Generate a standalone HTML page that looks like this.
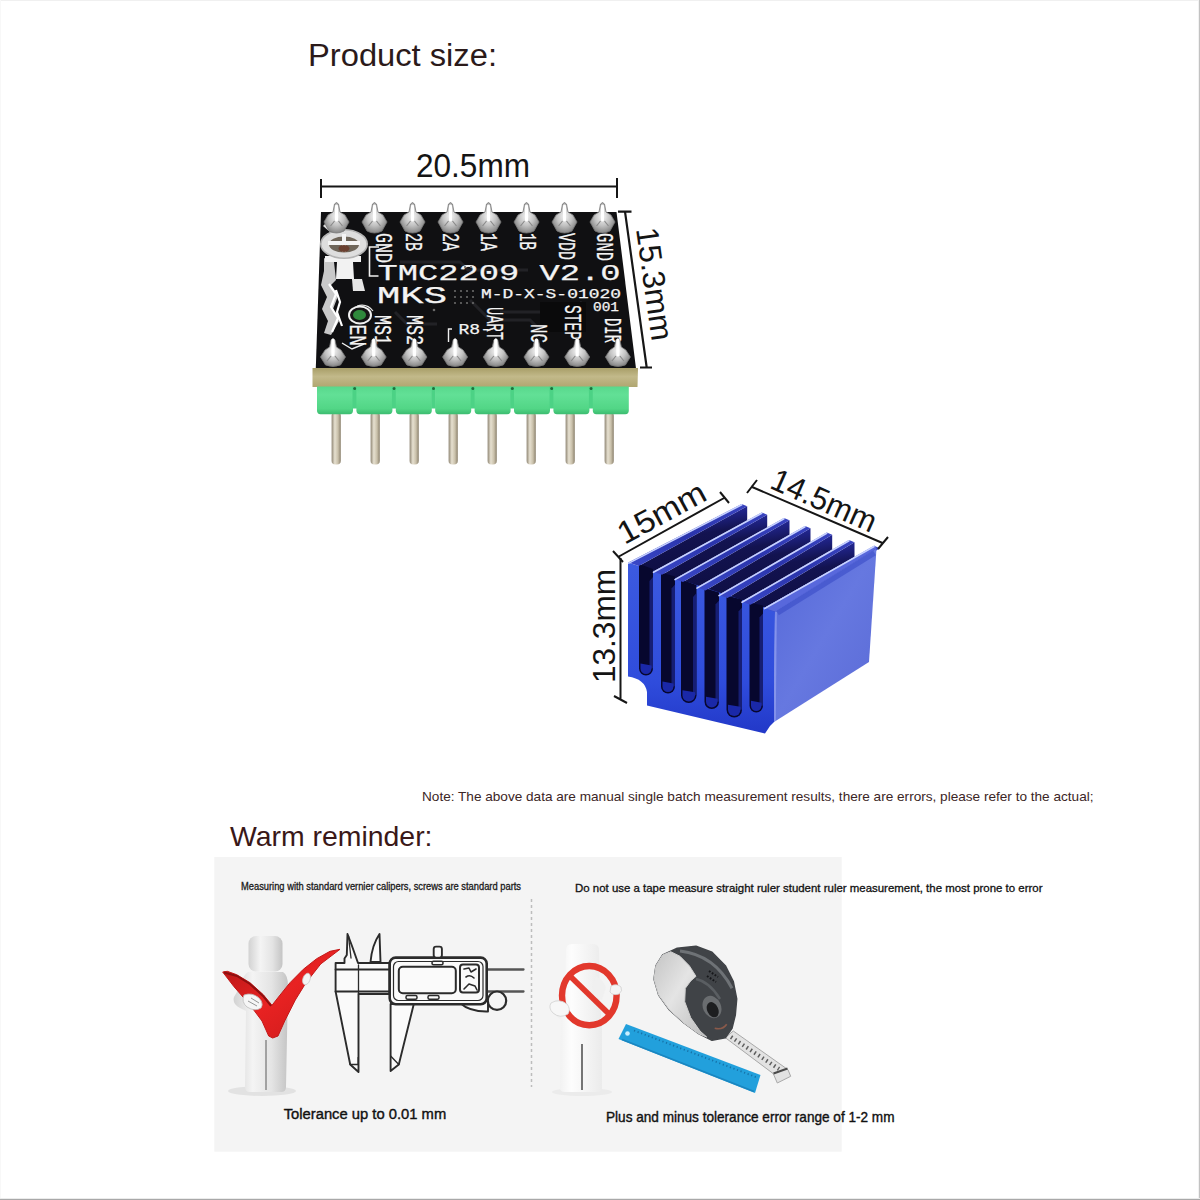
<!DOCTYPE html>
<html lang="en">
<head>
<meta charset="utf-8">
<title>Product size</title>
<style>
html,body{margin:0;padding:0;background:#fff;}
body{width:1200px;height:1200px;overflow:hidden;}
svg{display:block;}
svg text{font-family:"Liberation Sans", sans-serif;}
svg .silk text{font-family:"Liberation Mono", "DejaVu Sans Mono", monospace;}
</style>
</head>
<body>
<svg width="1200" height="1200" viewBox="0 0 1200 1200">
<defs>
<linearGradient id="pinG" x1="0" x2="1" y1="0" y2="0">
  <stop offset="0" stop-color="#8f8674"/><stop offset=".35" stop-color="#e6e0d0"/>
  <stop offset=".7" stop-color="#c9c0aa"/><stop offset="1" stop-color="#8a806c"/>
</linearGradient>
<linearGradient id="greenG" x1="0" x2="0" y1="0" y2="1">
  <stop offset="0" stop-color="#58d88c"/><stop offset=".3" stop-color="#62e096"/>
  <stop offset=".8" stop-color="#52d686"/><stop offset="1" stop-color="#3cbc70"/>
</linearGradient>
<linearGradient id="tanG" x1="0" x2="0" y1="0" y2="1">
  <stop offset="0" stop-color="#a89e68"/><stop offset=".45" stop-color="#c2b98a"/>
  <stop offset="1" stop-color="#b0a670"/>
</linearGradient>
<radialGradient id="padG" cx=".5" cy=".45" r=".6">
  <stop offset="0" stop-color="#f4f4f4"/><stop offset=".5" stop-color="#c4c4c4"/>
  <stop offset="1" stop-color="#7a7a7a"/>
</radialGradient>
<linearGradient id="faceG" x1="0" x2="1" y1="0" y2="1">
  <stop offset="0" stop-color="#5568d8"/><stop offset=".5" stop-color="#6678e0"/>
  <stop offset="1" stop-color="#5a6ad6"/>
</linearGradient>
<linearGradient id="crossG" x1="0" x2="0" y1="0" y2="1">
  <stop offset="0" stop-color="#3c5ae0"/><stop offset=".7" stop-color="#2f4cdc"/>
  <stop offset="1" stop-color="#2238c8"/>
</linearGradient>
<linearGradient id="bodyG" x1="0" x2="1" y1="0" y2="0">
  <stop offset="0" stop-color="#d2d2d2"/><stop offset=".35" stop-color="#f4f4f4"/>
  <stop offset=".7" stop-color="#e4e4e4"/><stop offset="1" stop-color="#c4c4c4"/>
</linearGradient>
<linearGradient id="body2G" x1="0" x2="1" y1="0" y2="0">
  <stop offset="0" stop-color="#e9e9e9"/><stop offset=".4" stop-color="#fdfdfd"/>
  <stop offset="1" stop-color="#ebebeb"/>
</linearGradient>
<linearGradient id="checkG" x1="0" x2="1" y1="0" y2="1">
  <stop offset="0" stop-color="#b01515"/><stop offset=".5" stop-color="#e82222"/>
  <stop offset="1" stop-color="#c81a1a"/>
</linearGradient>
<linearGradient id="tapeG" x1="0" x2="1" y1="0" y2="1">
  <stop offset="0" stop-color="#c4c4c4"/><stop offset=".45" stop-color="#e4e4e4"/>
  <stop offset="1" stop-color="#bcbcbc"/>
</linearGradient>
</defs>
<rect x="0" y="0" width="1200" height="1200" fill="#ffffff"/>
<rect x="0" y="0" width="1200" height="1" fill="#f0f0f0"/>
<rect x="0" y="0" width="1" height="1200" fill="#f8f8f8"/>
<rect x="1198" y="0" width="1" height="1200" fill="#f2f2f2"/>
<rect x="1199" y="0" width="1" height="1200" fill="#c2c2c2"/>
<rect x="0" y="1198" width="1200" height="1" fill="#ebebeb"/>
<rect x="0" y="1199" width="1200" height="1" fill="#a8a8a8"/>
<text x="308" y="65.5" font-size="31" fill="#2b1a1a" textLength="189" lengthAdjust="spacingAndGlyphs">Product size:</text>
<text x="416" y="177.3" font-size="32.5" fill="#141414" textLength="114" lengthAdjust="spacingAndGlyphs">20.5mm</text>
<g stroke="#161616" stroke-width="2" fill="none"><path d="M321 186.5H617M321 179V198M617 178V198"/></g>
<g id="pcb">
<polygon points="321.0,212.0 616.5,212.0 636.0,368.5 315.8,368.5" fill="#101012"/>
<path d="M400 262 h60 l8 8 h60 M470 300 l20 20 h40 l10 10 M500 312 h70 l12 -10 M395 312 l12 12 h30" stroke="#222226" stroke-width="3" fill="none"/>
<rect x="540" y="302" width="46" height="30" fill="#0a0a0b"/>
<polygon points="312.5,368.0 638.0,368.0 637.5,387.0 312.5,387.0" fill="url(#tanG)"/>
<rect x="331.6" y="412" width="9.2" height="52.5" rx="3.8" fill="url(#pinG)"/>
<rect x="370.6" y="412" width="9.2" height="52.5" rx="3.8" fill="url(#pinG)"/>
<rect x="409.6" y="412" width="9.2" height="52.5" rx="3.8" fill="url(#pinG)"/>
<rect x="448.6" y="412" width="9.2" height="52.5" rx="3.8" fill="url(#pinG)"/>
<rect x="487.6" y="412" width="9.2" height="52.5" rx="3.8" fill="url(#pinG)"/>
<rect x="526.6" y="412" width="9.2" height="52.5" rx="3.8" fill="url(#pinG)"/>
<rect x="565.6" y="412" width="9.2" height="52.5" rx="3.8" fill="url(#pinG)"/>
<rect x="604.6" y="412" width="9.2" height="52.5" rx="3.8" fill="url(#pinG)"/>
<path d="M317.0 386.5 h36 v24 q0 3.7 -3.5 3.7 h-29 q-3.5 0 -3.5 -3.7z" fill="url(#greenG)"/>
<rect x="352.5" y="386.5" width="4.5" height="22" fill="#4cd285"/>
<circle cx="354.7" cy="388.5" r="1.5" fill="#1f6e3c"/>
<path d="M356.4 386.5 h36 v24 q0 3.7 -3.5 3.7 h-29 q-3.5 0 -3.5 -3.7z" fill="url(#greenG)"/>
<rect x="391.9" y="386.5" width="4.5" height="22" fill="#4cd285"/>
<circle cx="394.1" cy="388.5" r="1.5" fill="#1f6e3c"/>
<path d="M395.8 386.5 h36 v24 q0 3.7 -3.5 3.7 h-29 q-3.5 0 -3.5 -3.7z" fill="url(#greenG)"/>
<rect x="431.3" y="386.5" width="4.5" height="22" fill="#4cd285"/>
<circle cx="433.5" cy="388.5" r="1.5" fill="#1f6e3c"/>
<path d="M435.2 386.5 h36 v24 q0 3.7 -3.5 3.7 h-29 q-3.5 0 -3.5 -3.7z" fill="url(#greenG)"/>
<rect x="470.7" y="386.5" width="4.5" height="22" fill="#4cd285"/>
<circle cx="472.9" cy="388.5" r="1.5" fill="#1f6e3c"/>
<path d="M474.6 386.5 h36 v24 q0 3.7 -3.5 3.7 h-29 q-3.5 0 -3.5 -3.7z" fill="url(#greenG)"/>
<rect x="510.1" y="386.5" width="4.5" height="22" fill="#4cd285"/>
<circle cx="512.3" cy="388.5" r="1.5" fill="#1f6e3c"/>
<path d="M514.0 386.5 h36 v24 q0 3.7 -3.5 3.7 h-29 q-3.5 0 -3.5 -3.7z" fill="url(#greenG)"/>
<rect x="549.5" y="386.5" width="4.5" height="22" fill="#4cd285"/>
<circle cx="551.7" cy="388.5" r="1.5" fill="#1f6e3c"/>
<path d="M553.4 386.5 h36 v24 q0 3.7 -3.5 3.7 h-29 q-3.5 0 -3.5 -3.7z" fill="url(#greenG)"/>
<rect x="588.9" y="386.5" width="4.5" height="22" fill="#4cd285"/>
<circle cx="591.1" cy="388.5" r="1.5" fill="#1f6e3c"/>
<path d="M592.8 386.5 h36 v24 q0 3.7 -3.5 3.7 h-29 q-3.5 0 -3.5 -3.7z" fill="url(#greenG)"/>
</g>
<g class="silk" fill="#f4f4f4" stroke="#f4f4f4" stroke-width="0.25">
<text x="377.5" y="279.6" font-size="22.5" textLength="243" lengthAdjust="spacingAndGlyphs">TMC2209 V2.0</text>
<text x="377" y="302.6" font-size="23" textLength="70" lengthAdjust="spacingAndGlyphs">MKS</text>
<text x="481" y="298" font-size="12.5" textLength="140" lengthAdjust="spacingAndGlyphs">M-D-X-S-01020</text>
<text x="593" y="311" font-size="12" textLength="26" lengthAdjust="spacingAndGlyphs">001</text>
<text x="458.5" y="334.2" font-size="15" textLength="32.5" lengthAdjust="spacingAndGlyphs">R8-</text>
<path d="M452 329h-3.5v13" stroke="#efefef" stroke-width="1.4" fill="none"/>
<g fill="#6a6a6a" stroke="none"><circle cx="455" cy="291" r="1.1"/><circle cx="461" cy="291" r="1.1"/><circle cx="467" cy="291" r="1.1"/><circle cx="473" cy="291" r="1.1"/><circle cx="455" cy="297" r="1.1"/><circle cx="461" cy="297" r="1.1"/><circle cx="467" cy="297" r="1.1"/><circle cx="473" cy="297" r="1.1"/><circle cx="455" cy="303" r="1.1"/><circle cx="461" cy="303" r="1.1"/><circle cx="467" cy="303" r="1.1"/><circle cx="473" cy="303" r="1.1"/><circle cx="434" cy="310" r="1.3"/><circle cx="465" cy="267" r="1.1"/><circle cx="471" cy="267" r="1.1"/></g>
<text transform="translate(376.3,233.0) rotate(90)" font-size="24.5" textLength="30.0" lengthAdjust="spacingAndGlyphs">GND</text>
<text transform="translate(406.3,233.0) rotate(90)" font-size="24.5" textLength="18.0" lengthAdjust="spacingAndGlyphs">2B</text>
<text transform="translate(443.3,233.0) rotate(90)" font-size="24.5" textLength="18.0" lengthAdjust="spacingAndGlyphs">2A</text>
<text transform="translate(481.3,233.0) rotate(90)" font-size="24.5" textLength="18.0" lengthAdjust="spacingAndGlyphs">1A</text>
<text transform="translate(519.8,233.0) rotate(90)" font-size="24.5" textLength="17.0" lengthAdjust="spacingAndGlyphs">1B</text>
<text transform="translate(559.3,233.0) rotate(90)" font-size="24.5" textLength="27.0" lengthAdjust="spacingAndGlyphs">VDD</text>
<text transform="translate(597.3,233.0) rotate(90)" font-size="24.5" textLength="28.0" lengthAdjust="spacingAndGlyphs">GND</text>
<text transform="translate(350.3,324.5) rotate(90)" font-size="24.5" textLength="21.5" lengthAdjust="spacingAndGlyphs">EN</text>
<text transform="translate(375.3,315.0) rotate(90)" font-size="24.5" textLength="30.0" lengthAdjust="spacingAndGlyphs">MS1</text>
<text transform="translate(407.3,315.0) rotate(90)" font-size="24.5" textLength="30.0" lengthAdjust="spacingAndGlyphs">MS2</text>
<text transform="translate(486.8,307.0) rotate(90)" font-size="24.5" textLength="33.0" lengthAdjust="spacingAndGlyphs">UART</text>
<text transform="translate(530.8,324.0) rotate(90)" font-size="24.5" textLength="19.0" lengthAdjust="spacingAndGlyphs">NC</text>
<text transform="translate(565.3,305.0) rotate(90)" font-size="24.5" textLength="35.0" lengthAdjust="spacingAndGlyphs">STEP</text>
<text transform="translate(604.8,318.0) rotate(90)" font-size="24.5" textLength="25.0" lengthAdjust="spacingAndGlyphs">DIR</text>
</g>
<g id="pot">
<path d="M324 258 l10 4 2 18 -6 6 8 10 -5 13 6 12 -8 14 -7 -2 4 -12 -6 -12 5 -12 -6 -12 3 -14z" fill="#c9c9c9"/>
<path d="M329 284 l7 10 -5 13 7 11 -6 14 M336 290 l4 12 -3 10 5 14" stroke="#ffffff" stroke-width="2.2" fill="none"/>
<path d="M323 226 l8 -8 6 8 -7 6z" fill="#dcdcdc"/>
<path d="M325 256 h36 v6 h-8 l1 17 h-18 l1 -17 h-12z" fill="#f2f2f2"/>
<path d="M352 279 l10 0 3 12 h-12 z" fill="#e6e6e6"/>
<ellipse cx="344" cy="244" rx="23.2" ry="14.2" fill="#dedede" stroke="#b4b4b4" stroke-width="1.6"/>
<ellipse cx="344" cy="244.5" rx="15" ry="8" fill="#6f665a"/>
<path d="M328 243h32M344 234v18" stroke="#f4f4f4" stroke-width="4"/>
<ellipse cx="344" cy="248.5" rx="5.5" ry="3.4" fill="#6a4030"/>
<path d="M379 247 h-9.5 v29 h9" stroke="#f0f0f0" stroke-width="1.6" fill="none"/>
<ellipse cx="360" cy="315" rx="11" ry="8.5" fill="#161616" stroke="#f2f2f2" stroke-width="2"/>
<ellipse cx="359.5" cy="315" rx="6.5" ry="5" fill="#2f8a3c"/>
<path d="M342 343 l10 6 l12 -5" stroke="#f0f0f0" stroke-width="1.4" fill="none"/>
<path d="M357 306 q10 -3 16 5" stroke="#e8e8e8" stroke-width="1.2" fill="none"/>
</g>
<g id="pads">
<path d="M324.0 222 l4 -7 l5 -3 l1.5 -8 q2 -3 4 0 l1.5 8 l5 3 l4 7 l-5 9 q-7.5 4 -15 0z" fill="url(#padG)" stroke="#777" stroke-width=".8"/>
<path d="M336.5 206 v14" stroke="#ffffff" stroke-width="3" stroke-linecap="round"/>
<path d="M330.5 226 l4 -5 M342.5 226 l-4 -5" stroke="#8a8a8a" stroke-width="1.2"/>
<path d="M362.0 222 l4 -7 l5 -3 l1.5 -8 q2 -3 4 0 l1.5 8 l5 3 l4 7 l-5 9 q-7.5 4 -15 0z" fill="url(#padG)" stroke="#777" stroke-width=".8"/>
<path d="M374.5 206 v14" stroke="#ffffff" stroke-width="3" stroke-linecap="round"/>
<path d="M368.5 226 l4 -5 M380.5 226 l-4 -5" stroke="#8a8a8a" stroke-width="1.2"/>
<path d="M400.0 222 l4 -7 l5 -3 l1.5 -8 q2 -3 4 0 l1.5 8 l5 3 l4 7 l-5 9 q-7.5 4 -15 0z" fill="url(#padG)" stroke="#777" stroke-width=".8"/>
<path d="M412.5 206 v14" stroke="#ffffff" stroke-width="3" stroke-linecap="round"/>
<path d="M406.5 226 l4 -5 M418.5 226 l-4 -5" stroke="#8a8a8a" stroke-width="1.2"/>
<path d="M438.0 222 l4 -7 l5 -3 l1.5 -8 q2 -3 4 0 l1.5 8 l5 3 l4 7 l-5 9 q-7.5 4 -15 0z" fill="url(#padG)" stroke="#777" stroke-width=".8"/>
<path d="M450.5 206 v14" stroke="#ffffff" stroke-width="3" stroke-linecap="round"/>
<path d="M444.5 226 l4 -5 M456.5 226 l-4 -5" stroke="#8a8a8a" stroke-width="1.2"/>
<path d="M476.0 222 l4 -7 l5 -3 l1.5 -8 q2 -3 4 0 l1.5 8 l5 3 l4 7 l-5 9 q-7.5 4 -15 0z" fill="url(#padG)" stroke="#777" stroke-width=".8"/>
<path d="M488.5 206 v14" stroke="#ffffff" stroke-width="3" stroke-linecap="round"/>
<path d="M482.5 226 l4 -5 M494.5 226 l-4 -5" stroke="#8a8a8a" stroke-width="1.2"/>
<path d="M514.0 222 l4 -7 l5 -3 l1.5 -8 q2 -3 4 0 l1.5 8 l5 3 l4 7 l-5 9 q-7.5 4 -15 0z" fill="url(#padG)" stroke="#777" stroke-width=".8"/>
<path d="M526.5 206 v14" stroke="#ffffff" stroke-width="3" stroke-linecap="round"/>
<path d="M520.5 226 l4 -5 M532.5 226 l-4 -5" stroke="#8a8a8a" stroke-width="1.2"/>
<path d="M552.0 222 l4 -7 l5 -3 l1.5 -8 q2 -3 4 0 l1.5 8 l5 3 l4 7 l-5 9 q-7.5 4 -15 0z" fill="url(#padG)" stroke="#777" stroke-width=".8"/>
<path d="M564.5 206 v14" stroke="#ffffff" stroke-width="3" stroke-linecap="round"/>
<path d="M558.5 226 l4 -5 M570.5 226 l-4 -5" stroke="#8a8a8a" stroke-width="1.2"/>
<path d="M590.0 222 l4 -7 l5 -3 l1.5 -8 q2 -3 4 0 l1.5 8 l5 3 l4 7 l-5 9 q-7.5 4 -15 0z" fill="url(#padG)" stroke="#777" stroke-width=".8"/>
<path d="M602.5 206 v14" stroke="#ffffff" stroke-width="3" stroke-linecap="round"/>
<path d="M596.5 226 l4 -5 M608.5 226 l-4 -5" stroke="#8a8a8a" stroke-width="1.2"/>
<path d="M320.5 357 l4.5 -7 l4.5 -3 l1.5 -7 q2 -3 4 0 l1.5 7 l4.5 3 l4.5 7 l-5 8 q-7.5 3 -15 0z" fill="url(#padG)" stroke="#777" stroke-width=".8"/>
<path d="M333.0 340 v15" stroke="#ffffff" stroke-width="3.2" stroke-linecap="round"/>
<path d="M327.0 361 l4 -5 M339.0 361 l-4 -5" stroke="#8a8a8a" stroke-width="1.2"/>
<path d="M361.2 357 l4.5 -7 l4.5 -3 l1.5 -7 q2 -3 4 0 l1.5 7 l4.5 3 l4.5 7 l-5 8 q-7.5 3 -15 0z" fill="url(#padG)" stroke="#777" stroke-width=".8"/>
<path d="M373.7 340 v15" stroke="#ffffff" stroke-width="3.2" stroke-linecap="round"/>
<path d="M367.7 361 l4 -5 M379.7 361 l-4 -5" stroke="#8a8a8a" stroke-width="1.2"/>
<path d="M401.9 357 l4.5 -7 l4.5 -3 l1.5 -7 q2 -3 4 0 l1.5 7 l4.5 3 l4.5 7 l-5 8 q-7.5 3 -15 0z" fill="url(#padG)" stroke="#777" stroke-width=".8"/>
<path d="M414.4 340 v15" stroke="#ffffff" stroke-width="3.2" stroke-linecap="round"/>
<path d="M408.4 361 l4 -5 M420.4 361 l-4 -5" stroke="#8a8a8a" stroke-width="1.2"/>
<path d="M442.6 357 l4.5 -7 l4.5 -3 l1.5 -7 q2 -3 4 0 l1.5 7 l4.5 3 l4.5 7 l-5 8 q-7.5 3 -15 0z" fill="url(#padG)" stroke="#777" stroke-width=".8"/>
<path d="M455.1 340 v15" stroke="#ffffff" stroke-width="3.2" stroke-linecap="round"/>
<path d="M449.1 361 l4 -5 M461.1 361 l-4 -5" stroke="#8a8a8a" stroke-width="1.2"/>
<path d="M483.3 357 l4.5 -7 l4.5 -3 l1.5 -7 q2 -3 4 0 l1.5 7 l4.5 3 l4.5 7 l-5 8 q-7.5 3 -15 0z" fill="url(#padG)" stroke="#777" stroke-width=".8"/>
<path d="M495.8 340 v15" stroke="#ffffff" stroke-width="3.2" stroke-linecap="round"/>
<path d="M489.8 361 l4 -5 M501.8 361 l-4 -5" stroke="#8a8a8a" stroke-width="1.2"/>
<path d="M524.0 357 l4.5 -7 l4.5 -3 l1.5 -7 q2 -3 4 0 l1.5 7 l4.5 3 l4.5 7 l-5 8 q-7.5 3 -15 0z" fill="url(#padG)" stroke="#777" stroke-width=".8"/>
<path d="M536.5 340 v15" stroke="#ffffff" stroke-width="3.2" stroke-linecap="round"/>
<path d="M530.5 361 l4 -5 M542.5 361 l-4 -5" stroke="#8a8a8a" stroke-width="1.2"/>
<path d="M564.7 357 l4.5 -7 l4.5 -3 l1.5 -7 q2 -3 4 0 l1.5 7 l4.5 3 l4.5 7 l-5 8 q-7.5 3 -15 0z" fill="url(#padG)" stroke="#777" stroke-width=".8"/>
<path d="M577.2 340 v15" stroke="#ffffff" stroke-width="3.2" stroke-linecap="round"/>
<path d="M571.2 361 l4 -5 M583.2 361 l-4 -5" stroke="#8a8a8a" stroke-width="1.2"/>
<path d="M605.4 357 l4.5 -7 l4.5 -3 l1.5 -7 q2 -3 4 0 l1.5 7 l4.5 3 l4.5 7 l-5 8 q-7.5 3 -15 0z" fill="url(#padG)" stroke="#777" stroke-width=".8"/>
<path d="M617.9 340 v15" stroke="#ffffff" stroke-width="3.2" stroke-linecap="round"/>
<path d="M611.9 361 l4 -5 M623.9 361 l-4 -5" stroke="#8a8a8a" stroke-width="1.2"/>
</g>
<g stroke="#161616" stroke-width="2.2" fill="none"><path d="M625 211.7L646.7 367.5M618 211.7h13.5M640 367.5h12"/></g>
<text transform="translate(636,229) rotate(82)" font-size="31.5" fill="#141414" textLength="114" lengthAdjust="spacingAndGlyphs">15.3mm</text>
<g id="heatsink">
<defs>
<linearGradient id="topG" gradientUnits="objectBoundingBox" x1="0" y1="1" x2="1" y2="0">
 <stop offset="0" stop-color="#3a48c8"/><stop offset=".5" stop-color="#2a34ac"/><stop offset="1" stop-color="#3944c0"/>
</linearGradient>
<linearGradient id="gapG" gradientUnits="objectBoundingBox" x1=".35" y1="0" x2=".65" y2="1">
 <stop offset="0" stop-color="#2a30a4"/><stop offset=".22" stop-color="#20248a"/><stop offset=".45" stop-color="#131350"/>
 <stop offset="1" stop-color="#0d0d40"/>
</linearGradient></defs>
<polygon points="638.8,566.1 747.2,506.2 747.2,520.4 653.0,571.7" fill="url(#gapG)"/>
<polygon points="662.0,574.8 767.2,514.7 767.2,527.4 674.5,579.0" fill="url(#gapG)"/>
<polygon points="683.0,581.9 789.5,520.2 789.5,534.8 696.5,587.5" fill="url(#gapG)"/>
<polygon points="705.5,590.6 810.5,528.2 810.5,541.9 718.5,595.0" fill="url(#gapG)"/>
<polygon points="727.5,598.1 832.2,534.7 832.2,549.6 741.5,601.7" fill="url(#gapG)"/>
<polygon points="750.5,604.8 854.5,542.2 854.5,557.2 764.0,608.0" fill="url(#gapG)"/>
<path d="M628 562.5 L639 566 L775 611 L774 722 L770 726 L765 733.5 L647 705.5 L647 692 Q645 679 628 676.5 Z" fill="url(#crossG)"/>
<path d="M639 564 L653 569 L653 668.5 A7.0 7.0 0 0 1 639 668.5Z" fill="#07072e"/>
<path d="M649.5 581 L653 577 L653 668.5 L649.5 668.5Z" fill="#1a2486" opacity=".8"/>
<path d="M640.5 663.5 L651.5 665.5 L651.5 668.5 A5.5 5.5 0 0 1 640.5 668.5Z" fill="#1a28a8"/>
<path d="M661 572.5 L675 576.5 L675 686.5 A7.0 7.0 0 0 1 661 686.5Z" fill="#07072e"/>
<path d="M671.5 588.5 L675 584.5 L675 686.5 L671.5 686.5Z" fill="#1a2486" opacity=".8"/>
<path d="M662.5 681.5 L673.5 683.5 L673.5 686.5 A5.5 5.5 0 0 1 662.5 686.5Z" fill="#1a28a8"/>
<path d="M681 579.5 L696.5 585 L696.5 695.25 A7.75 7.75 0 0 1 681 695.25Z" fill="#07072e"/>
<path d="M693.0 597 L696.5 593 L696.5 695.25 L693.0 695.25Z" fill="#1a2486" opacity=".8"/>
<path d="M682.5 690.25 L695.0 692.25 L695.0 695.25 A6.25 6.25 0 0 1 682.5 695.25Z" fill="#1a28a8"/>
<path d="M704.5 588 L719 592.5 L719 701.75 A7.25 7.25 0 0 1 704.5 701.75Z" fill="#07072e"/>
<path d="M715.5 604.5 L719 600.5 L719 701.75 L715.5 701.75Z" fill="#1a2486" opacity=".8"/>
<path d="M706.0 696.75 L717.5 698.75 L717.5 701.75 A5.75 5.75 0 0 1 706.0 701.75Z" fill="#1a28a8"/>
<path d="M726.5 595.5 L742 599.5 L742 709.75 A7.75 7.75 0 0 1 726.5 709.75Z" fill="#07072e"/>
<path d="M738.5 611.5 L742 607.5 L742 709.75 L738.5 709.75Z" fill="#1a2486" opacity=".8"/>
<path d="M728.0 704.75 L740.5 706.75 L740.5 709.75 A6.25 6.25 0 0 1 728.0 709.75Z" fill="#1a28a8"/>
<path d="M749.5 602.5 L763 605.5 L763 705.75 A6.75 6.75 0 0 1 749.5 705.75Z" fill="#07072e"/>
<path d="M759.5 617.5 L763 613.5 L763 705.75 L759.5 705.75Z" fill="#1a2486" opacity=".8"/>
<path d="M751.0 700.75 L761.5 702.75 L761.5 705.75 A5.25 5.25 0 0 1 751.0 705.75Z" fill="#1a28a8"/>
<polygon points="628.3,562.5 741.7,504.0 747.2,506.2 638.8,566.1" fill="url(#topG)"/>
<path d="M628.8 563.1 L741.7 504.8" stroke="#c8d2ff" stroke-width="1.6" stroke-linecap="round"/>
<polygon points="653.0,571.7 761.7,512.5 767.2,514.7 662.0,574.8" fill="url(#topG)"/>
<path d="M653.5 572.3 L761.7 513.3" stroke="#c8d2ff" stroke-width="1.6" stroke-linecap="round"/>
<polygon points="674.5,579.0 784.0,518.0 789.5,520.2 683.0,581.9" fill="url(#topG)"/>
<path d="M675.0 579.6 L784.0 518.8" stroke="#c8d2ff" stroke-width="1.6" stroke-linecap="round"/>
<polygon points="696.5,587.5 805.0,526.0 810.5,528.2 705.5,590.6" fill="url(#topG)"/>
<path d="M697.0 588.1 L805.0 526.8" stroke="#c8d2ff" stroke-width="1.6" stroke-linecap="round"/>
<polygon points="718.5,595.0 826.7,532.5 832.2,534.7 727.5,598.1" fill="url(#topG)"/>
<path d="M719.0 595.6 L826.7 533.3" stroke="#c8d2ff" stroke-width="1.6" stroke-linecap="round"/>
<polygon points="741.5,601.7 849.0,540.0 854.5,542.2 750.5,604.8" fill="url(#topG)"/>
<path d="M742.0 602.3 L849.0 540.8" stroke="#c8d2ff" stroke-width="1.6" stroke-linecap="round"/>
<polygon points="764.0,608.0 874.5,546.0 880.0,548.2 775.0,611.7" fill="url(#topG)"/>
<path d="M764.5 608.6 L874.5 546.8" stroke="#c8d2ff" stroke-width="1.6" stroke-linecap="round"/>
<polygon points="775.0,611.0 876.5,548.5 869.0,662.0 774.0,722.0" fill="url(#faceG)"/>
<path d="M777.5 613 L874.5 553" stroke="#3a4cc8" stroke-width="5" opacity=".6"/>
<path d="M776 612 L775 721" stroke="#8f9cf0" stroke-width="1.6" opacity=".8"/>
<polygon points="764.0,608.0 874.5,545.5 876.5,548.5 775.0,611.5" fill="#5868dc"/>
<path d="M764.5 608.6 L874.5 546.3" stroke="#c8d2ff" stroke-width="1.6"/>
</g>
<g stroke="#161616" stroke-width="2" fill="none"><path d="M618 557L725 497.5M613 551l10 11M720 492l9 11"/><path d="M751 486.5L882.5 543M757 480l-10 13M888 537l-10 12"/><path d="M620.5 558V700M614 696l13 7"/></g>
<text transform="translate(624.5,545) rotate(-28.5)" font-size="31.5" fill="#141414" textLength="96" lengthAdjust="spacingAndGlyphs">15mm</text>
<text transform="translate(768.5,487.5) rotate(24)" font-size="31.5" fill="#141414" textLength="112" lengthAdjust="spacingAndGlyphs">14.5mm</text>
<text transform="translate(614.5,683) rotate(-90)" font-size="31.5" fill="#141414" textLength="114" lengthAdjust="spacingAndGlyphs">13.3mm</text>
<text x="422" y="800.5" font-size="13.4" fill="#3c2626" textLength="671.5" lengthAdjust="spacingAndGlyphs">Note: The above data are manual single batch measurement results, there are errors, please refer to the actual;</text>
<text x="230" y="845.5" font-size="28" fill="#3a1818" textLength="202.5" lengthAdjust="spacingAndGlyphs">Warm reminder:</text>
<rect x="214.3" y="857" width="627.4" height="294.7" fill="#f4f4f4"/>
<text x="241" y="889.5" font-size="10" fill="#1a1a1a" stroke="#1a1a1a" stroke-width=".3" textLength="280" lengthAdjust="spacingAndGlyphs">Measuring with standard vernier calipers, screws are standard parts</text>
<text x="575" y="892" font-size="11.2" fill="#111" stroke="#111" stroke-width=".3" textLength="467.5" lengthAdjust="spacingAndGlyphs">Do not use a tape measure straight ruler student ruler measurement, the most prone to error</text>
<text x="283.7" y="1119" font-size="15.4" fill="#111" stroke="#111" stroke-width=".4" textLength="162.5" lengthAdjust="spacingAndGlyphs">Tolerance up to 0.01 mm</text>
<text x="606" y="1122" font-size="15" fill="#111" stroke="#111" stroke-width=".4" textLength="288.5" lengthAdjust="spacingAndGlyphs">Plus and minus tolerance error range of 1-2 mm</text>
<path d="M531.5 899V1087" stroke="#bdbdbd" stroke-width="1.5" stroke-dasharray="3 3" fill="none"/>
<g id="fig1">
<ellipse cx="262" cy="1091" rx="34" ry="5" fill="#e2e2e2"/>
<path d="M248 972 Q243 975 241 985 L234 997 Q232 1004 240 1008 L246 1011 L245 1087 Q245 1092 250 1092 L281 1092 Q286 1092 286 1087 L288 986 Q288 975 283 972 Z" fill="url(#bodyG)"/>
<path d="M266 1040V1090" stroke="#8a8a8a" stroke-width="1.5"/>
<rect x="248.5" y="936" width="34" height="35.5" rx="7.5" fill="url(#bodyG)"/>
<path d="M222.7 972 L227.3 971.3 L236.7 974.7 L250 982.7 L263.3 994.7 L272 1005.3 L279.3 996 L290 982.7 L303.3 969.3 L316.7 958.7 L330 951.3 L340 949.3 L320.7 964 L306 982.7 L295.3 1000 L284.7 1021 L278 1036 L272.7 1038 L268.7 1036 L262 1021 L250 1005 L234 986.7Z" fill="url(#checkG)" stroke="#c41818" stroke-width="1" stroke-linejoin="round"/>
<path d="M224 972.5 L237 976 L250 984 L263 996 L271 1006" stroke="#8e0f0f" stroke-width="2" fill="none"/>
<path d="M244 995 q8 -3 15 3 q5 5 2 10 q-6 4 -14 -1 q-6 -5 -3 -12z" fill="#f6f6f6" stroke="#bdbdbd" stroke-width=".8"/>
<path d="M248 1001 l9 5 M251 998 l8 5" stroke="#8a8a8a" stroke-width=".9"/>
<ellipse cx="306.5" cy="979" rx="3.6" ry="6" transform="rotate(20 306.5 979)" fill="#f4f4f4" stroke="#c8c8c8" stroke-width=".7"/>
</g>
<g id="caliper" stroke="#2b2b2b" stroke-width="1.9" fill="#fafafa" stroke-linejoin="round" stroke-linecap="round">
<path d="M347.5 934 L346.8 955 L344.5 958.5 L344.5 963 L335.6 963 L335.6 991.5 L350.2 1064.5 L358.5 1072 L358.5 994 L389.5 994 L389.5 963 L358 963 L352 946 Z"/>
<path d="M348.5 936 L351 958 M358.5 994 V965" stroke-width="1.3" fill="none"/>
<path d="M379.5 934 Q372 945 370.5 962 L380.5 962 Z"/>
<path d="M335.6 969.5 H389.5 M335.6 991.5 H389.5" fill="none"/>
<path d="M486.8 969.5 H523.5 M486.8 991.5 H523.5" stroke-width="2.3" fill="none" stroke="#555"/>
<path d="M390.6 1004 V1071 L398.8 1064.5 L413.8 1004 Z"/>
<path d="M460 1003 Q470 1012 488 1011.5 L488 1000 Z"/>
<rect x="389.7" y="957.6" width="97" height="46.7" rx="6" stroke-width="2.6"/>
<rect x="393.5" y="961.5" width="89.5" height="39" rx="5" stroke-width="1.2" fill="none"/>
<rect x="398.8" y="966.7" width="57" height="26.6" rx="4" stroke-width="2"/>
<rect x="433.7" y="946.6" width="8.2" height="11" rx="2.4"/>
<rect x="432" y="961.2" width="11" height="3.6" rx="1.5" stroke-width="1.5"/>
<rect x="406" y="995.6" width="11" height="3.6" rx="1.5" stroke-width="1.5"/>
<rect x="428" y="995.6" width="11" height="3.6" rx="1.5" stroke-width="1.5"/>
<rect x="460" y="964.5" width="19" height="28" rx="3" stroke-width="2"/>
<path d="M464 969 l5 -1 l2 4 l5 -3 M466 977 q4 -3 8 1 M464 989 l5 -5 l6 2 l2 4" fill="none" stroke-width="1.6"/>
<path d="M350.2 1064.5 h8 l0 -7 M390.6 1056 l8.2 8.5" fill="none" stroke-width="1.4"/>
<circle cx="497" cy="1000.7" r="9.2" stroke-width="2.2" fill="#f4f4f4"/>
</g>
<g id="fig2">
<ellipse cx="582" cy="1092" rx="30" ry="4" fill="#ebebeb"/>
<path d="M566 950 Q566 944 572 944 L593 944 Q599 944 599 950 L600 1000 L602 1030 L602 1088 Q602 1092 597 1092 L565 1092 Q560 1092 560 1088 L561 1020 L552 1012 Q549 1004 556 1000 L565 998 Z" fill="url(#body2G)"/>
<path d="M582 1044V1090" stroke="#4a4a4a" stroke-width="1.5"/>
<ellipse cx="589.3" cy="995.6" rx="27.3" ry="29.6" fill="none" stroke="#e2382c" stroke-width="6.4"/>
<path d="M571 977L609 1014" stroke="#e2382c" stroke-width="5.6"/>
<path d="M551 1003 q8 -5 16 1 q4 5 1 10 q-8 5 -15 -1 q-5 -5 -2 -10z" fill="#f7f7f7" stroke="#d2d2d2" stroke-width=".8"/>
<path d="M611 986 q6 -3 10 1 q2 4 -2 7 q-6 2 -9 -2z" fill="#f4f4f4" stroke="#cfcfcf" stroke-width=".8"/>
<path d="M596 976 q8 4 10 12 l-4 12 q-8 -2 -10 -10z" fill="#efefef" opacity=".9"/>
</g>
<g id="tools">
<polygon points="626.0,1024.0 760.5,1075.0 755.0,1093.0 618.5,1039.0" fill="#22a0dc"/>
<circle cx="627.5" cy="1033.5" r="2.3" fill="#c8efff"/>
<path d="M634 1030.5 L757 1077.5" stroke="#1672a8" stroke-width="1.8" stroke-dasharray="1.2 2.6"/>
<path d="M622 1039.5 L754 1091.5" stroke="#1a86c0" stroke-width="1.6"/>
<polygon points="725.3,1037.7 733.3,1031.0 788.0,1069.7 790.7,1076.3 777.3,1083.0 773.3,1073.7" fill="#e2e2e2" stroke="#a8a8a8" stroke-width="1"/>
<path d="M731 1037 L779 1069" stroke="#5e5e5e" stroke-width="4" stroke-dasharray="1.5 3.2"/>
<path d="M773.5 1073.5 l14 -5" stroke="#4a4a4a" stroke-width="2"/>
<polygon points="654.0,979.0 656.0,965.7 662.7,955.0 677.3,948.3 696.0,946.3 712.0,952.3 725.3,965.7 733.3,981.7 736.7,999.0 735.3,1015.0 732.0,1028.3 725.3,1037.7 712.0,1040.3 698.7,1033.7 684.0,1023.0 669.3,1009.7 658.7,995.0" fill="#404347" stroke="#404347" stroke-width="1.5" stroke-linejoin="round"/>
<polygon points="654.0,979.0 656.0,965.7 662.7,955.0 670.7,951.7 680.0,956.3 689.3,965.7 696.0,976.3 690.7,981.0 685.3,988.3 684.7,1001.7 690.7,1017.7 700.0,1031.0 706.7,1037.0 698.7,1033.7 684.0,1023.0 669.3,1009.7 658.7,995.0" fill="url(#tapeG)" stroke="#d0d0d0" stroke-width="1" stroke-linejoin="round"/>
<path d="M680.0 951.0 Q714.7 955.0 732.0 988.3" stroke="#6e7276" stroke-width="3" fill="none"/>
<path d="M696.0 979.0 Q709.3 981.7 720.0 999.0" stroke="#5a5e62" stroke-width="2.5" fill="none"/>
<ellipse cx="712.0" cy="1007.0" rx="9" ry="11.5" transform="rotate(-25 712.0 1007.0)" fill="#6a6d70"/>
<ellipse cx="712.7" cy="1009.7" rx="5.5" ry="8" transform="rotate(-25 712.7 1009.7)" fill="#1d1e20"/>
<path d="M709 971 l9 6 M707 976 l9 6" stroke="#16171a" stroke-width="2" stroke-dasharray="1.8 1.6"/>
<path d="M714.7 1028.3 q8 2 12 -4" stroke="#8a5a4a" stroke-width="1.6" fill="none"/>
</g>
</svg>
</body>
</html>
